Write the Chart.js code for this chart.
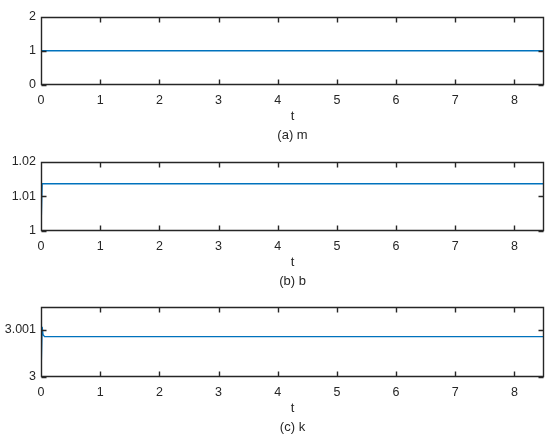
<!DOCTYPE html>
<html>
<head>
<meta charset="utf-8">
<script src="https://cdn.jsdelivr.net/npm/chart.js@4/dist/chart.umd.min.js"></script>
<style>
  body { margin: 0; background: #fff; }
  .panel { position: absolute; left: 0; width: 550px; }
</style>
</head>
<body>
<canvas id="chartM" class="panel" style="top:4px" width="550" height="141"></canvas>
<canvas id="chartB" class="panel" style="top:149px" width="550" height="142"></canvas>
<canvas id="chartK" class="panel" style="top:294px" width="550" height="143"></canvas>
<script>
// datos
const xTicks = [0, 1, 2, 3, 4, 5, 6, 7, 8];

const tM = [0, 8.5];
const valuesM = [1, 1];
const yTicksM = [0, 1, 2];

const tB = [0, 0.02, 8.5];
const valuesB = [1, 1.0136, 1.0136];
const yTicksB = [1, 1.01, 1.02];

const tK = [0, 0.02, 0.035, 0.06, 8.5];
const valuesK = [3, 3.00107, 3.0009, 3.00086, 3.00086];
const yTicksK = [3, 3.001];

const axisColor = '#262626';
const lineColor = '#0072BD';

// caja tipo MATLAB con marcas hacia dentro
const boxPlugin = {
    id: 'box',
    afterDraw(chart) {
        const { ctx, chartArea: a, scales: { x, y } } = chart;
        const l = Math.round(a.left) + 0.5;
        const r = Math.round(a.right) - 0.5;
        const tp = Math.round(a.top) + 0.5;
        const b = Math.round(a.bottom) - 0.5;
        ctx.save();
        ctx.strokeStyle = axisColor;
        ctx.lineWidth = 1.4;
        ctx.beginPath();
        ctx.moveTo(l, tp); ctx.lineTo(r, tp); ctx.lineTo(r, b); ctx.lineTo(l, b); ctx.closePath();
        x.ticks.forEach(t => {
            const px = Math.round(x.getPixelForValue(t.value)) + 0.5;
            ctx.moveTo(px, b); ctx.lineTo(px, b - 5);
            ctx.moveTo(px, tp); ctx.lineTo(px, tp + 5);
        });
        y.ticks.forEach(t => {
            const py = Math.round(y.getPixelForValue(t.value)) + 0.5;
            ctx.moveTo(l, py); ctx.lineTo(l + 5, py);
            ctx.moveTo(r, py); ctx.lineTo(r - 5, py);
        });
        ctx.stroke();
        ctx.restore();
    }
};

function createPanel(id, t, values, yTicks, yMin, yMax, caption) {
    const ctx = document.getElementById(id).getContext('2d');
    return new Chart(ctx, {
        type: 'line',
        data: {
            datasets: [{
                data: t.map((v, i) => ({ x: v, y: values[i] })),
                borderColor: lineColor,
                borderWidth: 1.3,
                pointRadius: 0,
                tension: 0,
                fill: false
            }]
        },
        options: {
            responsive: false,
            animation: false,
            layout: { padding: { top: 10, right: 6, left: 0, bottom: 0 } },
            plugins: {
                legend: { display: false },
                tooltip: { enabled: false }
            },
            scales: {
                x: {
                    type: 'linear',
                    min: 0,
                    max: 8.5,
                    afterBuildTicks: scale => { scale.ticks = xTicks.map(v => ({ value: v })); },
                    afterFit: scale => { scale.height = 60; },
                    grid: { display: false, drawTicks: false },
                    border: { display: false },
                    ticks: {
                        padding: 8,
                        color: axisColor,
                        font: { family: 'Liberation Sans', size: 12.5 }
                    },
                    title: {
                        display: true,
                        text: ['t', caption],
                        color: axisColor,
                        padding: 0,
                        font: { family: 'Liberation Sans', size: 13, lineHeight: 1.46 }
                    }
                },
                y: {
                    min: yMin,
                    max: yMax,
                    afterBuildTicks: scale => { scale.ticks = yTicks.map(v => ({ value: v })); },
                    afterFit: scale => { scale.width = 41; },
                    grid: { display: false, drawTicks: false },
                    border: { display: false },
                    ticks: {
                        padding: 5,
                        color: axisColor,
                        font: { family: 'Liberation Sans', size: 12.5 },
                        callback: value => String(+value.toFixed(4))
                    }
                }
            }
        },
        plugins: [boxPlugin]
    });
}

createPanel('chartM', tM, valuesM, yTicksM, 0, 2, '(a) m');
createPanel('chartB', tB, valuesB, yTicksB, 1, 1.02, '(b) b');
createPanel('chartK', tK, valuesK, yTicksK, 3, 3.0015, '(c) k');
</script>
</body>
</html>
